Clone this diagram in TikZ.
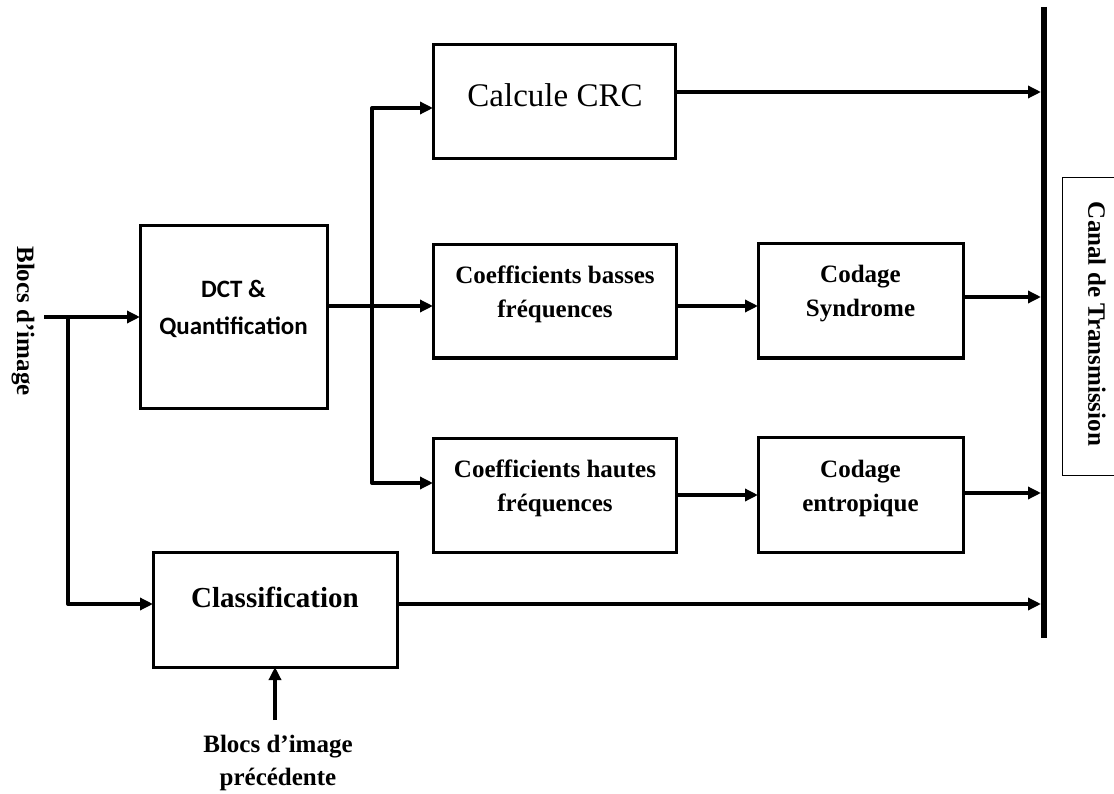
\documentclass[tikz,border=0pt]{standalone}
\usepackage{fontspec}
\setmainfont{Liberation Serif}
\newfontfamily\carlitofont{Carlito}
\usetikzlibrary{arrows.meta}
\begin{document}
\begin{tikzpicture}[x=1pt,y=-1pt,
  box/.style={draw,line width=3pt,inner sep=0pt,outer sep=0pt},
  arr/.style={line width=4pt,line join=round,-{Triangle[length=13pt,width=12pt]}},
  lbl/.style={inner sep=0pt,align=center,font=\bfseries\fontsize{25}{34}\selectfont}]
\useasboundingbox (0,0) rectangle (1114,794);
% boxes
\node[box,minimum width=187pt,minimum height=182pt] (dct) at (233.5,317) {};
\node[box,minimum width=242pt,minimum height=114pt] (crc) at (554,102) {};
\node[box,minimum width=243pt,minimum height=113pt] (bas) at (554.5,301.5) {};
\node[box,minimum width=243pt,minimum height=114pt] (hau) at (554.5,495) {};
\node[box,minimum width=205pt,minimum height=114pt] (syn) at (860.5,301) {};
\node[box,minimum width=205pt,minimum height=115pt] (ent) at (860.5,494.5) {};
\node[box,minimum width=244pt,minimum height=115pt] (cls) at (275,609.5) {};
\node[draw,line width=1pt,inner sep=0pt,minimum width=60pt,minimum height=297pt] (canal) at (1092,326.5) {};
% texts
\node[inner sep=0pt,align=center,font=\carlitofont\bfseries\fontsize{25}{37}\selectfont] (dctt) at (233.5,308.5) {DCT \&\\Quantification};
\node[inner sep=0pt,font=\fontsize{33}{40}\selectfont] (crct) at (555,95) {Calcule CRC};
\node[lbl] (bast) at (555,294) {Coefficients basses\\fréquences};
\node[lbl] (haut) at (555,488) {Coefficients hautes\\fréquences};
\node[lbl] (synt) at (860.5,294) {Codage\\Syndrome};
\node[lbl] (entt) at (860.5,488) {Codage\\entropique};
\node[inner sep=0pt,font=\bfseries\fontsize{29}{34}\selectfont] (clst) at (275,597) {Classification};
\node[lbl,font=\bfseries\fontsize{25}{33}\selectfont] (prevt) at (278,763) {Blocs d’image\\précédente};
\node[lbl,rotate=-90] (srct) at (23,321) {Blocs d’image};
\node[lbl,rotate=-90] (canalt) at (1097,324) {Canal de Transmission};
% coordinates
\coordinate (src) at (44,317);
\coordinate (split) at (68,317);
\coordinate (hub) at (372,306);
\coordinate (busT) at (1044,7);
\coordinate (busB) at (1044,638);
\coordinate (e1) at (1041,92);
\coordinate (e2) at (1041,297);
\coordinate (e3) at (1041,493);
\coordinate (e4) at (1041,604);
\coordinate (prev) at (275,720);
% bus
\draw[line width=6pt] (busT) -- (busB);
% connectors
\draw[arr] (src) -- (dct.west);
\draw[line width=4pt,line join=round,-{Triangle[length=13pt,width=12pt]}] (split) |- ([yshift=5.5pt]cls.west);
\draw[line width=4pt] (dct.east |- hub) -- (hub);
\draw[arr] (hub) -- (hub -| bas.west);
\draw[arr] (hub) |- ([yshift=-6pt]crc.west);
\draw[arr] (hub) |- ([yshift=12pt]hau.west);
\draw[arr] ([yshift=10pt]crc.east) -- (e1);
\draw[arr] ([yshift=-4.5pt]bas.east) -- ([yshift=-5pt]syn.west);
\draw[arr] ([yshift=4pt]syn.east) -- (e2);
\draw[arr] (hau.east) -- (hau.east -| ent.west);
\draw[arr] ([yshift=1.5pt]ent.east) -- (e3);
\draw[arr] ([yshift=5.5pt]cls.east) -- (e4);
\draw[arr] (prev) -- (cls.south);
\end{tikzpicture}
\end{document}
